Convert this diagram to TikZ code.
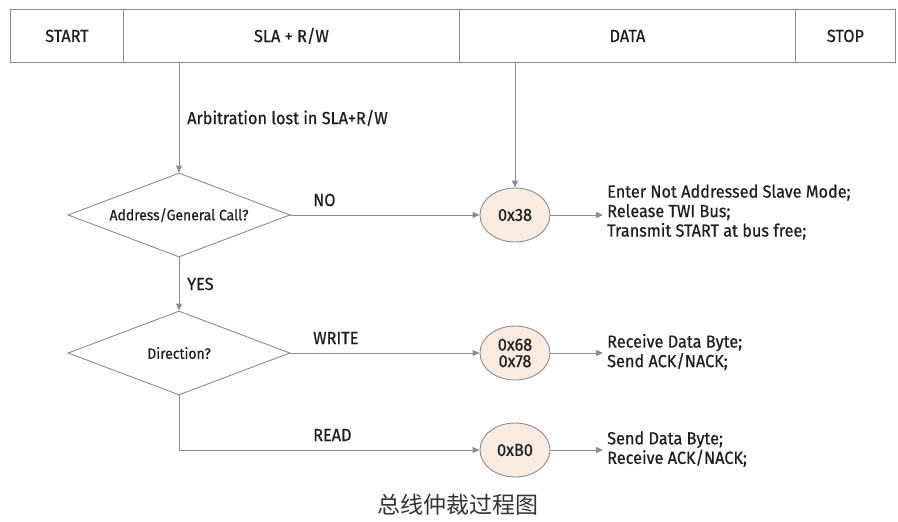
\documentclass[tikz,border=0pt]{standalone}
\usepackage{fontspec}
\setmainfont{Fira Sans}[FakeStretch=0.93,FakeBold=0.6]
\newfontfamily\cjk{Noto Sans CJK SC}
\usetikzlibrary{arrows.meta,shapes.geometric,calc}
\definecolor{linegrey}{HTML}{8C8C8C}
\definecolor{txt}{HTML}{1E1E1E}
\definecolor{peach}{HTML}{FAEBE0}
\begin{document}
\begin{tikzpicture}[x=1pt,y=-1pt,
  every node/.style={text=txt,font=\fontsize{17.5}{19.5}\selectfont},
  cell/.style={draw=linegrey,line width=0.9pt,minimum height=53pt,inner sep=0pt,anchor=north west},
  decision/.style={diamond,draw=linegrey,line width=0.9pt,shape aspect=2.64,minimum width=222pt,minimum height=84pt,inner sep=0pt,font=\fontsize{15}{18}\selectfont},
  state/.style={ellipse,draw=linegrey,line width=0.9pt,fill=peach,minimum width=70pt,minimum height=54pt,inner sep=0pt,align=center},
  action/.style={anchor=west,align=left,inner sep=0pt},
  lbl/.style={inner sep=0pt},
  conn/.style={draw=linegrey,line width=0.9pt,-{Triangle[length=7pt,width=6pt]}},
  plain/.style={draw=linegrey,line width=0.9pt}
]
\useasboundingbox (0,0) rectangle (898,522);
% top bar
\node[cell,minimum width=113pt] (start) at (10,9) {START};
\node[cell,minimum width=336pt] (sla) at (123,9) {SLA + R/W};
\node[cell,minimum width=336pt] (data) at (459,9) {DATA};
\node[cell,minimum width=100pt] (stop) at (795,9) {STOP};
% decisions
\node[decision] (d1) at (179,215) {Address/General Call?};
\node[decision] (d2) at (179,353) {Direction?};
% states
\node[state] (s38) at (515,215) {0x38};
\node[state] (s68) at (515,353) {0x68\\[-3pt]0x78};
\node[state] (sB0) at (515,450) {0xB0};
% actions
\node[action] (a38) at (607,212) {Enter Not Addressed Slave Mode;\\Release TWI Bus;\\Transmit START at bus free;};
\node[action] (a68) at (607,352) {Receive Data Byte;\\Send ACK/NACK;};
\node[action] (aB0) at (607,449) {Send Data Byte;\\Receive ACK/NACK;};
\coordinate (c38) at (603,215);
\coordinate (c68) at (603,353);
\coordinate (cB0) at (603,450);
% connectors
\draw[conn] (sla.south -| d1.north) -- (d1.north);
\draw[conn] (data.south -| s38.north) -- (s38.north);
\draw[conn] (d1.east) -- (s38.west);
\draw[conn] (d1.south) -- (d2.north);
\draw[conn] (d2.east) -- (s68.west);
\coordinate (rd) at (d2.south |- sB0.west);
\draw[plain] (d2.south) -- (rd);
\draw[conn] (rd) -- (sB0.west);
\draw[conn] (s38.east) -- (c38);
\draw[conn] (s68.east) -- (c68);
\draw[conn] (sB0.east) -- (cB0);
% labels
\node[lbl,anchor=west] (larb) at (187,118) {Arbitration lost in SLA+R/W};
\node[lbl,anchor=west] (lno) at (313,200) {NO};
\node[lbl,anchor=west] (lyes) at (187,284) {YES};
\node[lbl,anchor=west] (lwr) at (313,338) {WRITE};
\node[lbl,anchor=west] (lrd) at (313,435) {READ};
% caption
\node[lbl,text=black!80,font=\cjk\fontsize{23}{26}\selectfont] (cap) at (458,505) {总线仲裁过程图};
\end{tikzpicture}
\end{document}
